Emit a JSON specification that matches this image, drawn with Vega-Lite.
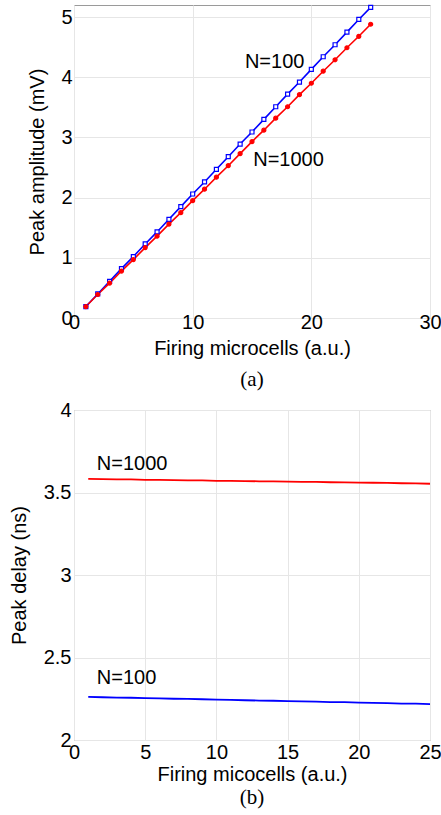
{
  "$schema": "https://vega.github.io/schema/vega-lite/v6.json",
  "background": "white",
  "padding": {"left": 8, "top": 2, "right": 5, "bottom": 5},
  "spacing": 8,
  "config": {
    "font": "Liberation Sans",
    "view": {"stroke": "#9a9a9a", "strokeWidth": 1},
    "axis": {
      "grid": true,
      "gridColor": "#e6e6e6",
      "domain": false,
      "ticks": false,
      "labelFont": "Liberation Sans",
      "labelFontSize": 20,
      "labelColor": "#000000",
      "labelFlush": false,
      "titleFont": "Liberation Sans",
      "titleFontSize": 20,
      "titleFontWeight": "normal",
      "titleColor": "#000000"
    },
    "title": {"font": "Liberation Serif", "fontSize": 21, "fontWeight": "normal", "color": "#000000", "orient": "bottom"}
  },
  "datasets": {
    "amp": [
      {"cells": 1, "series": "N=100", "amp": 0.19},
      {"cells": 2, "series": "N=100", "amp": 0.40},
      {"cells": 3, "series": "N=100", "amp": 0.61},
      {"cells": 4, "series": "N=100", "amp": 0.82},
      {"cells": 5, "series": "N=100", "amp": 1.02},
      {"cells": 6, "series": "N=100", "amp": 1.23},
      {"cells": 7, "series": "N=100", "amp": 1.43},
      {"cells": 8, "series": "N=100", "amp": 1.64},
      {"cells": 9, "series": "N=100", "amp": 1.85},
      {"cells": 10, "series": "N=100", "amp": 2.06},
      {"cells": 11, "series": "N=100", "amp": 2.26},
      {"cells": 12, "series": "N=100", "amp": 2.47},
      {"cells": 13, "series": "N=100", "amp": 2.68},
      {"cells": 14, "series": "N=100", "amp": 2.89},
      {"cells": 15, "series": "N=100", "amp": 3.09},
      {"cells": 16, "series": "N=100", "amp": 3.30},
      {"cells": 17, "series": "N=100", "amp": 3.51},
      {"cells": 18, "series": "N=100", "amp": 3.72},
      {"cells": 19, "series": "N=100", "amp": 3.92},
      {"cells": 20, "series": "N=100", "amp": 4.13},
      {"cells": 21, "series": "N=100", "amp": 4.34},
      {"cells": 22, "series": "N=100", "amp": 4.54},
      {"cells": 23, "series": "N=100", "amp": 4.75},
      {"cells": 24, "series": "N=100", "amp": 4.96},
      {"cells": 25, "series": "N=100", "amp": 5.16},
      {"cells": 1, "series": "N=1000", "amp": 0.19},
      {"cells": 2, "series": "N=1000", "amp": 0.39},
      {"cells": 3, "series": "N=1000", "amp": 0.58},
      {"cells": 4, "series": "N=1000", "amp": 0.78},
      {"cells": 5, "series": "N=1000", "amp": 0.97},
      {"cells": 6, "series": "N=1000", "amp": 1.17},
      {"cells": 7, "series": "N=1000", "amp": 1.36},
      {"cells": 8, "series": "N=1000", "amp": 1.56},
      {"cells": 9, "series": "N=1000", "amp": 1.75},
      {"cells": 10, "series": "N=1000", "amp": 1.95},
      {"cells": 11, "series": "N=1000", "amp": 2.14},
      {"cells": 12, "series": "N=1000", "amp": 2.34},
      {"cells": 13, "series": "N=1000", "amp": 2.53},
      {"cells": 14, "series": "N=1000", "amp": 2.73},
      {"cells": 15, "series": "N=1000", "amp": 2.93},
      {"cells": 16, "series": "N=1000", "amp": 3.12},
      {"cells": 17, "series": "N=1000", "amp": 3.32},
      {"cells": 18, "series": "N=1000", "amp": 3.51},
      {"cells": 19, "series": "N=1000", "amp": 3.71},
      {"cells": 20, "series": "N=1000", "amp": 3.90},
      {"cells": 21, "series": "N=1000", "amp": 4.10},
      {"cells": 22, "series": "N=1000", "amp": 4.29},
      {"cells": 23, "series": "N=1000", "amp": 4.49},
      {"cells": 24, "series": "N=1000", "amp": 4.68},
      {"cells": 25, "series": "N=1000", "amp": 4.88}
    ],
    "delay": [
      {"cells": 1, "series": "N=1000", "delay": 3.582},
      {"cells": 2, "series": "N=1000", "delay": 3.581},
      {"cells": 3, "series": "N=1000", "delay": 3.580},
      {"cells": 4, "series": "N=1000", "delay": 3.579},
      {"cells": 5, "series": "N=1000", "delay": 3.577},
      {"cells": 6, "series": "N=1000", "delay": 3.576},
      {"cells": 7, "series": "N=1000", "delay": 3.575},
      {"cells": 8, "series": "N=1000", "delay": 3.574},
      {"cells": 9, "series": "N=1000", "delay": 3.573},
      {"cells": 10, "series": "N=1000", "delay": 3.571},
      {"cells": 11, "series": "N=1000", "delay": 3.570},
      {"cells": 12, "series": "N=1000", "delay": 3.569},
      {"cells": 13, "series": "N=1000", "delay": 3.568},
      {"cells": 14, "series": "N=1000", "delay": 3.567},
      {"cells": 15, "series": "N=1000", "delay": 3.566},
      {"cells": 16, "series": "N=1000", "delay": 3.565},
      {"cells": 17, "series": "N=1000", "delay": 3.564},
      {"cells": 18, "series": "N=1000", "delay": 3.562},
      {"cells": 19, "series": "N=1000", "delay": 3.561},
      {"cells": 20, "series": "N=1000", "delay": 3.560},
      {"cells": 21, "series": "N=1000", "delay": 3.559},
      {"cells": 22, "series": "N=1000", "delay": 3.558},
      {"cells": 23, "series": "N=1000", "delay": 3.556},
      {"cells": 24, "series": "N=1000", "delay": 3.555},
      {"cells": 25, "series": "N=1000", "delay": 3.553},
      {"cells": 1, "series": "N=100", "delay": 2.261},
      {"cells": 2, "series": "N=100", "delay": 2.259},
      {"cells": 3, "series": "N=100", "delay": 2.257},
      {"cells": 4, "series": "N=100", "delay": 2.256},
      {"cells": 5, "series": "N=100", "delay": 2.254},
      {"cells": 6, "series": "N=100", "delay": 2.252},
      {"cells": 7, "series": "N=100", "delay": 2.250},
      {"cells": 8, "series": "N=100", "delay": 2.249},
      {"cells": 9, "series": "N=100", "delay": 2.247},
      {"cells": 10, "series": "N=100", "delay": 2.245},
      {"cells": 11, "series": "N=100", "delay": 2.243},
      {"cells": 12, "series": "N=100", "delay": 2.241},
      {"cells": 13, "series": "N=100", "delay": 2.239},
      {"cells": 14, "series": "N=100", "delay": 2.238},
      {"cells": 15, "series": "N=100", "delay": 2.236},
      {"cells": 16, "series": "N=100", "delay": 2.234},
      {"cells": 17, "series": "N=100", "delay": 2.232},
      {"cells": 18, "series": "N=100", "delay": 2.230},
      {"cells": 19, "series": "N=100", "delay": 2.229},
      {"cells": 20, "series": "N=100", "delay": 2.227},
      {"cells": 21, "series": "N=100", "delay": 2.225},
      {"cells": 22, "series": "N=100", "delay": 2.223},
      {"cells": 23, "series": "N=100", "delay": 2.221},
      {"cells": 24, "series": "N=100", "delay": 2.220},
      {"cells": 25, "series": "N=100", "delay": 2.218}
    ]
  },
  "vconcat": [
    {
      "width": 356,
      "height": 313,
      "title": {"text": "(a)", "orient": "bottom", "offset": 11},
      "layer": [
        {
          "data": {"name": "amp"},
          "mark": {"type": "line", "strokeWidth": 1.6},
          "encoding": {
            "x": {"field": "cells", "type": "quantitative", "scale": {"domain": [0, 30], "nice": false},
                  "axis": {"values": [0, 10, 20, 30], "title": "Firing microcells (a.u.)", "labelPadding": -6, "titlePadding": 6}},
            "y": {"field": "amp", "type": "quantitative", "scale": {"domain": [0, 5.2], "nice": false},
                  "axis": {"values": [0, 1, 2, 3, 4, 5], "format": "~g", "title": "Peak amplitude (mV)", "labelPadding": 2, "titlePadding": 13}},
            "color": {"field": "series", "type": "nominal", "scale": {"domain": ["N=100", "N=1000"], "range": ["#0000ff", "#ff0000"]}, "legend": null}
          }
        },
        {
          "data": {"name": "amp"},
          "mark": {"type": "point", "strokeWidth": 1.2, "opacity": 1, "size": 16},
          "encoding": {
            "x": {"field": "cells", "type": "quantitative"},
            "y": {"field": "amp", "type": "quantitative"},
            "shape": {"field": "series", "type": "nominal", "scale": {"domain": ["N=100", "N=1000"], "range": ["square", "circle"]}, "legend": null},
            "stroke": {"field": "series", "type": "nominal", "scale": {"domain": ["N=100", "N=1000"], "range": ["#0000ff", "#ff0000"]}, "legend": null},
            "fill": {"field": "series", "type": "nominal", "scale": {"domain": ["N=100", "N=1000"], "range": ["#ffffff", "#ff0000"]}, "legend": null}
          }
        },
        {
          "data": {"values": [{}]},
          "mark": {"type": "text", "align": "left", "baseline": "middle", "fontSize": 20, "font": "Liberation Sans", "color": "#000000"},
          "encoding": {"x": {"datum": 14.4, "type": "quantitative"}, "y": {"datum": 4.26, "type": "quantitative"}, "text": {"value": "N=100"}}
        },
        {
          "data": {"values": [{}]},
          "mark": {"type": "text", "align": "left", "baseline": "middle", "fontSize": 20, "font": "Liberation Sans", "color": "#000000"},
          "encoding": {"x": {"datum": 15.1, "type": "quantitative"}, "y": {"datum": 2.63, "type": "quantitative"}, "text": {"value": "N=1000"}}
        }
      ]
    },
    {
      "width": 356,
      "height": 330,
      "title": {"text": "(b)", "orient": "bottom", "offset": 3},
      "layer": [
        {
          "data": {"name": "delay"},
          "mark": {"type": "line", "strokeWidth": 1.8},
          "encoding": {
            "x": {"field": "cells", "type": "quantitative", "scale": {"domain": [0, 25], "nice": false},
                  "axis": {"values": [0, 5, 10, 15, 20, 25], "title": "Firing micocells (a.u.)", "labelPadding": 2, "titlePadding": 2}},
            "y": {"field": "delay", "type": "quantitative", "scale": {"domain": [2, 4], "nice": false},
                  "axis": {"values": [2, 2.5, 3, 3.5, 4], "format": "~g", "title": "Peak delay (ns)", "labelPadding": 3, "titlePadding": 14}},
            "color": {"field": "series", "type": "nominal", "scale": {"domain": ["N=100", "N=1000"], "range": ["#0000ff", "#ff0000"]}, "legend": null}
          }
        },
        {
          "data": {"values": [{}]},
          "mark": {"type": "text", "align": "left", "baseline": "middle", "fontSize": 20, "font": "Liberation Sans", "color": "#000000"},
          "encoding": {"x": {"datum": 1.6, "type": "quantitative"}, "y": {"datum": 3.673, "type": "quantitative"}, "text": {"value": "N=1000"}}
        },
        {
          "data": {"values": [{}]},
          "mark": {"type": "text", "align": "left", "baseline": "middle", "fontSize": 20, "font": "Liberation Sans", "color": "#000000"},
          "encoding": {"x": {"datum": 1.6, "type": "quantitative"}, "y": {"datum": 2.376, "type": "quantitative"}, "text": {"value": "N=100"}}
        }
      ]
    }
  ]
}
